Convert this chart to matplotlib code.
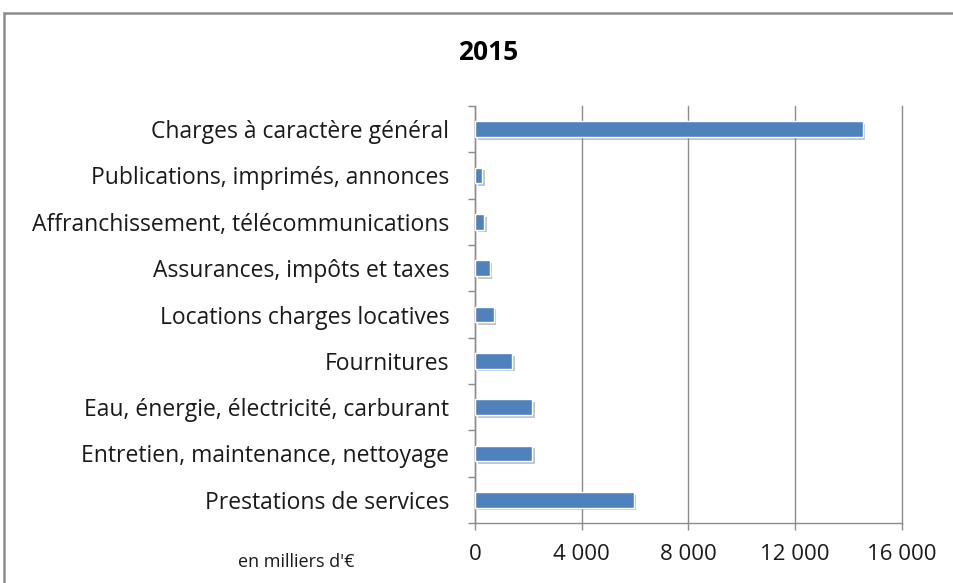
import matplotlib
matplotlib.use("Agg")
import matplotlib.pyplot as plt
from matplotlib.patches import Rectangle
import matplotlib.patheffects as pe
from matplotlib.ticker import FuncFormatter

categories = [
    "Prestations de services",
    "Entretien, maintenance, nettoyage",
    "Eau, énergie, électricité, carburant",
    "Fournitures",
    "Locations charges locatives",
    "Assurances, impôts et taxes",
    "Affranchissement, télécommunications",
    "Publications, imprimés, annonces",
    "Charges à caractère général",
]
values = [5940, 2140, 2150, 1380, 700, 550, 350, 260, 14520]
xticks = [0, 4000, 8000, 12000, 16000]
title = "2015"
unit_note = "en milliers d'€"

plt.rcParams['font.family'] = ['Open Sans', 'DejaVu Sans']

fig = plt.figure(figsize=(9.54, 5.83), dpi=100)
fig.patches.append(Rectangle((4/954, -0.1), 1.2, 0.1 + 570/583, transform=fig.transFigure,
                             fill=False, edgecolor="#8c8c8c", linewidth=1.8))

ax = fig.add_axes([475/954, 60/583, 427/954, 417/583])
y = list(range(len(categories)))
bars = ax.barh(y, values, height=0.34, color="#4F81BD", edgecolor="white", linewidth=1.0, zorder=3)
for b in bars:
    b.set_path_effects([pe.SimplePatchShadow(offset=(2, -2), shadow_rgbFace="#7f7f7f", alpha=0.45),
                        pe.Normal()])

ax.set_ylim(-0.5, len(categories) - 0.5)
ax.set_xlim(0, 16000)
ax.set_xticks(xticks)
ax.xaxis.set_major_formatter(FuncFormatter(lambda v, p: f"{int(v):,}".replace(",", " ")))
ax.set_yticks(y)
ax.set_yticklabels(categories)
ax.set_yticks([i - 0.5 for i in range(len(categories) + 1)], minor=True)
ax.tick_params(axis='y', which='major', length=0, pad=18.5, labelsize=16.5, labelcolor="#1a1a1a")
ax.tick_params(axis='y', which='minor', length=5, color="#8c8c8c", width=1)
ax.tick_params(axis='x', length=5, color="#8c8c8c", width=1, pad=10, labelsize=16, labelcolor="#1a1a1a")

ax.grid(axis='x', color="#8c8c8c", linewidth=1, zorder=0)
for gl in ax.get_xgridlines():
    gl.set_clip_on(False)
ax.set_axisbelow(True)
for s in ["top", "right"]:
    ax.spines[s].set_visible(False)
for s in ["left", "bottom"]:
    ax.spines[s].set_color("#8c8c8c")
    ax.spines[s].set_linewidth(1)

fig.text(488/954, 1 - 52/583, title, ha="center", va="center", fontsize=19, fontweight="bold", color="black")
fig.text(296/954, 1 - 562/583, unit_note, ha="center", va="center", fontsize=13, color="#1a1a1a")

fig.savefig("out.png", dpi=100)
